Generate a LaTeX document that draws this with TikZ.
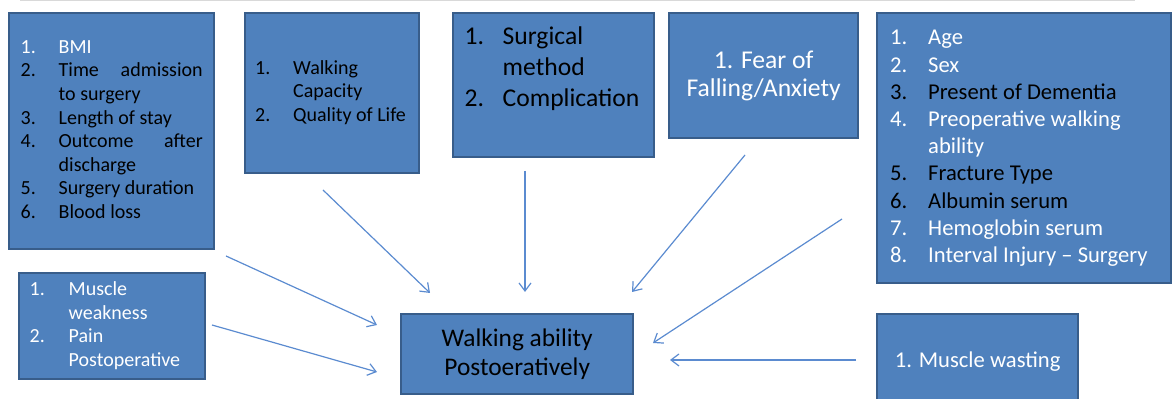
\documentclass[tikz,border=0pt]{standalone}
\usepackage{fontspec}
\setmainfont{Carlito}
\usepackage{array}
\usetikzlibrary{arrows.meta}
\newcommand{\lrow}[3]{\textcolor{#1}{#2} & \leavevmode\color{#1}#3\\}
\hyphenpenalty=10000
\tolerance=9999
\hbadness=10000
\begin{document}
\begin{tikzpicture}[x=0.5pt,y=-0.5pt,
  factor/.style={draw=boxline,fill=boxfill,line width=1.2pt,inner sep=0pt,anchor=north west},
  link/.style={draw=linkblue,line width=0.6pt,-{Straight Barb[length=4pt,width=6pt]}}]
 \definecolor{boxfill}{HTML}{4F81BD}
 \definecolor{boxline}{HTML}{385D8A}
 \definecolor{linkblue}{HTML}{5B8BD0}
 \definecolor{rule}{HTML}{D9D9D9}
 \useasboundingbox (0,0) rectangle (1174,399);
 \draw [rule,line width=0.5pt] (20,0.5) -- (1135,0.5);
 % factor boxes
 \node [factor,minimum width=102.5pt,minimum height=118pt] (periop) at (8,12)
  {\fontsize{10}{11.8}\selectfont
   \begin{tabular}{@{}p{19pt}@{}p{72pt}@{}}
    \lrow{white}{1.}{BMI}
    \lrow{black}{2.}{Time admission to surgery}
    \lrow{black}{3.}{Length of stay}
    \lrow{black}{4.}{Outcome after discharge}
    \lrow{black}{5.}{Surgery duration}
    \lrow{black}{6.}{Blood loss}
   \end{tabular}};
 \node [factor,minimum width=87pt,minimum height=80pt] (outcome) at (244,12)
  {\fontsize{10}{11.7}\selectfont
   \begin{tabular}{@{}p{19pt}@{}p{58pt}@{}}
    \lrow{black}{1.}{Walking Capacity}
    \lrow{black}{2.}{Quality of Life}
   \end{tabular}};
 \node [factor,minimum width=100.5pt,minimum height=72pt] (surgery) at (452,12)
  {\fontsize{12.8}{15.5}\selectfont
   \begin{tabular}{@{}p{19pt}@{}p{70pt}@{}}
    \lrow{black}{1.}{Surgical method}
    \lrow{black}{2.}{Complication}
    & \\
   \end{tabular}};
 \node [factor,minimum width=94.5pt,minimum height=62.5pt,align=center,text=white,
  font=\fontsize{12.8}{14}\selectfont] (fear) at (668,12) {1. Fear of\\Falling/Anxiety};
 \node [factor,minimum width=147pt,minimum height=135pt] (preop) at (876,12)
  {\fontsize{11.3}{13.6}\selectfont
   \begin{tabular}{@{}p{19pt}@{}>{\raggedright\arraybackslash}p{115pt}@{}}
    \lrow{white}{1.}{Age}
    \lrow{white}{2.}{Sex}
    \lrow{black}{3.}{Present of Dementia}
    \lrow{white}{4.}{Preoperative walking ability}
    \lrow{black}{5.}{Fracture Type}
    \lrow{black}{6.}{Albumin serum}
    \lrow{white}{7.}{Hemoglobin serum}
    \lrow{white}{8.}{Interval Injury -- Surgery}
   \end{tabular}};
 \node [factor,minimum width=93pt,minimum height=53pt] (postop) at (18,272)
  {\fontsize{10}{11.8}\selectfont
   \begin{tabular}{@{}p{19.5pt}@{}p{63pt}@{}}
    \lrow{white}{1.}{Muscle weakness}
    \lrow{white}{2.}{Pain Postoperative}
   \end{tabular}};
 \node [factor,minimum width=116pt,minimum height=40pt,align=center,
  font=\fontsize{12.7}{14.5}\selectfont] (walking) at (400,313) {Walking ability\\Postoeratively};
 \node [factor,minimum width=100.5pt,minimum height=47pt,text=white,
  font=\fontsize{11.3}{13.6}\selectfont] (wasting) at (876,313) {1. Muscle wasting};
 % arrow ends
 \coordinate (periop-out) at (226,256);
 \coordinate (postop-out) at (212,325);
 \coordinate (outcome-out) at (323,190);
 \coordinate (surgery-out) at (525,171);
 \coordinate (fear-out) at (745,155);
 \coordinate (preop-out) at (842,219);
 \coordinate (wasting-out) at (856,360);
 \coordinate (walk-a) at (377,325);
 \coordinate (walk-b) at (377,372);
 \coordinate (walk-c) at (430,293);
 \coordinate (walk-d) at (525,292);
 \coordinate (walk-e) at (632,292);
 \coordinate (walk-f) at (653,343);
 \coordinate (walk-g) at (670,360);
 \draw [link] (periop-out) -- (walk-a);
 \draw [link] (postop-out) -- (walk-b);
 \draw [link] (outcome-out) -- (walk-c);
 \draw [link] (surgery-out) -- (walk-d);
 \draw [link] (fear-out) -- (walk-e);
 \draw [link] (preop-out) -- (walk-f);
 \draw [link] (wasting-out) -- (walk-g);
\end{tikzpicture}
\end{document}
